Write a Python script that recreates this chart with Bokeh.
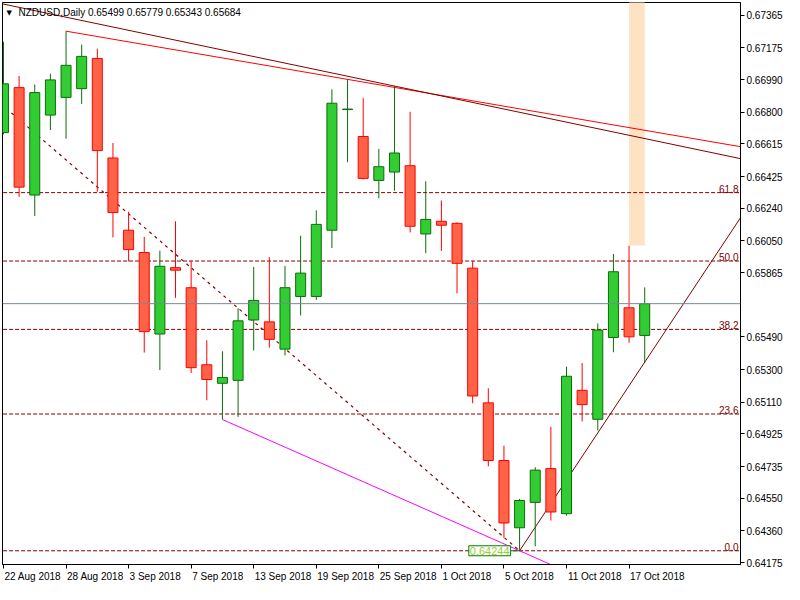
from bokeh.plotting import figure
from bokeh.models import Range1d, FixedTicker, NumeralTickFormatter, Label, Span
from bokeh.embed import file_html
from bokeh.resources import INLINE
from bokeh.core.properties import value

symbol = "NZDUSD,Daily"

dates = ["22 Aug 2018", "23 Aug 2018", "24 Aug 2018", "27 Aug 2018", "28 Aug 2018", "29 Aug 2018",
         "30 Aug 2018", "31 Aug 2018", "3 Sep 2018", "4 Sep 2018", "5 Sep 2018", "6 Sep 2018",
         "7 Sep 2018", "10 Sep 2018", "11 Sep 2018", "12 Sep 2018", "13 Sep 2018", "14 Sep 2018",
         "17 Sep 2018", "18 Sep 2018", "19 Sep 2018", "20 Sep 2018", "21 Sep 2018", "24 Sep 2018",
         "25 Sep 2018", "26 Sep 2018", "27 Sep 2018", "28 Sep 2018", "1 Oct 2018", "2 Oct 2018",
         "3 Oct 2018", "4 Oct 2018", "5 Oct 2018", "8 Oct 2018", "9 Oct 2018", "10 Oct 2018",
         "11 Oct 2018", "12 Oct 2018", "15 Oct 2018", "16 Oct 2018", "17 Oct 2018", "18 Oct 2018"]

opens = [0.66681, 0.66943, 0.66317, 0.66783, 0.66886, 0.66937, 0.67113, 0.66533, 0.66112, 0.65982,
         0.65507, 0.65894, 0.65777, 0.65328, 0.65220, 0.65237, 0.65589, 0.65578, 0.65419, 0.65726,
         0.65726, 0.66112, 0.66815, 0.66658, 0.66402, 0.66451, 0.66488, 0.66090, 0.66164, 0.66152,
         0.65891, 0.65106, 0.64770, 0.64378, 0.64526, 0.64723, 0.64460, 0.65179, 0.65010, 0.65487,
         0.65660, 0.65499]
highs = [0.67210, 0.67011, 0.66961, 0.67024, 0.67272, 0.67194, 0.67170, 0.66620, 0.66220, 0.66074,
         0.65993, 0.66164, 0.65934, 0.65471, 0.65407, 0.65657, 0.65898, 0.65955, 0.65904, 0.66080,
         0.66228, 0.66933, 0.66991, 0.66882, 0.66586, 0.66952, 0.66802, 0.66398, 0.66285, 0.66158,
         0.65934, 0.65191, 0.64857, 0.64546, 0.64731, 0.64966, 0.65317, 0.65338, 0.65569, 0.65973,
         0.66021, 0.65779]
lows = [0.66671, 0.66306, 0.66195, 0.66696, 0.66645, 0.66848, 0.66336, 0.66070, 0.65930, 0.65399,
        0.65297, 0.65718, 0.65280, 0.65121, 0.65009, 0.65024, 0.65411, 0.65428, 0.65382, 0.65615,
        0.65706, 0.66008, 0.66508, 0.66408, 0.66298, 0.66342, 0.66099, 0.65978, 0.65991, 0.65744,
        0.65104, 0.64736, 0.64319, 0.64244, 0.64270, 0.64420, 0.64449, 0.64998, 0.64945, 0.65401,
        0.65456, 0.65343]
closes = [0.66965, 0.66363, 0.66914, 0.66988, 0.67073, 0.67125, 0.66576, 0.66215, 0.65999, 0.65521,
          0.65902, 0.65879, 0.65311, 0.65242, 0.65254, 0.65584, 0.65703, 0.65476, 0.65777, 0.65862,
          0.66146, 0.66852, 0.66818, 0.66414, 0.66482, 0.66562, 0.66135, 0.66175, 0.66141, 0.65919,
          0.65146, 0.64770, 0.64406, 0.64537, 0.64714, 0.64470, 0.65261, 0.65096, 0.65530, 0.65870,
          0.65491, 0.65684]

y_ticks = [0.67365, 0.67175, 0.66990, 0.66800, 0.66615, 0.66425, 0.66240, 0.66050, 0.65865,
           0.65490, 0.65300, 0.65110, 0.64925, 0.64735, 0.64550, 0.64360, 0.64175]
x_tick_step = 4

# Fibonacci retracement anchors (bar index, price)
fib_high_idx, fib_high = -10, 0.67621
fib_low_idx, fib_low = 33, 0.64244
fib_levels = [0.0, 23.6, 38.2, 50.0, 61.8]

# trend lines: anchors (bar index, price)
red_line = [(4, 0.67272), (22, 0.66991)]
maroon_line = [(-10, 0.67621), (25, 0.66952)]
up_line = [(33, 0.64244), (41, 0.65343)]
magenta_line = [(14, 0.65009), (33, 0.64244)]

# highlighted rectangle (bar index range, price range)
rect_left, rect_right = 40, 41
rect_bottom, rect_top = 0.66023, 0.68

x_start, x_end = -0.0625, 47.125
y_start, y_end = 0.64164, 0.67439

FONT = "Liberation Sans"
FS_PX = 10
FS = f"{FS_PX}px"
MAROON = "#800000"
FRAME_W, FRAME_H = 738, 562

# approximate advance widths (per 1000 em) of Liberation Sans, used to left-align date labels
GLYPH_W = {" ": 278, "A": 667, "u": 556, "g": 556, "S": 667, "e": 556, "p": 556, "O": 778, "c": 500, "t": 278}

n = len(closes)
idx = list(range(n))
tick_idx = list(range(0, n, x_tick_step))
px_per_bar = FRAME_W / (x_end - x_start)


def text_w(s):
    return sum(GLYPH_W.get(ch, 556) for ch in s) * FS_PX / 1000.0


label_pos = [round(i + (text_w(dates[i]) / 2 + 1) / px_per_bar, 4) for i in tick_idx]

p = figure(frame_width=FRAME_W, frame_height=FRAME_H, x_range=Range1d(x_start, x_end),
           y_range=Range1d(y_start, y_end), y_axis_location="right", output_backend="svg",
           toolbar_location=None, min_border_left=2, min_border_top=2, min_border_right=0,
           min_border_bottom=0)
p.grid.visible = False
p.outline_line_color = "black"
p.outline_line_width = 1
p.background_fill_color = "white"
p.border_fill_color = "white"

# axes
p.xaxis.ticker = FixedTicker(ticks=label_pos, minor_ticks=tick_idx)
p.xaxis.major_label_overrides = {pos: dates[i] for pos, i in zip(label_pos, tick_idx)}
p.xaxis.major_tick_line_color = None
p.xaxis.minor_tick_line_color = "black"
p.xaxis.minor_tick_in = 0
p.xaxis.minor_tick_out = 4
p.yaxis.ticker = FixedTicker(ticks=y_ticks)
p.yaxis.formatter = NumeralTickFormatter(format="0.00000")
p.yaxis.minor_tick_line_color = None
p.yaxis.major_tick_line_color = "black"
for ax in (p.xaxis, p.yaxis):
    ax.major_tick_in = 0
    ax.major_tick_out = 4
    ax.axis_line_color = "black"
    ax.major_label_text_font = FONT
    ax.major_label_text_font_size = FS
    ax.major_label_text_color = "black"
    ax.major_label_standoff = 2

# rectangle
p.quad(left=[rect_left], right=[rect_right], bottom=[rect_bottom], top=[rect_top],
       fill_color="#FDE2C4", line_color=None)

# fib levels
fr = fib_high - fib_low
fib_prices = [fib_low + fr * lv / 100.0 for lv in fib_levels]
p.segment(x0=[fib_high_idx] * len(fib_levels), y0=fib_prices, x1=[x_end] * len(fib_levels), y1=fib_prices,
          line_color=MAROON, line_width=1, line_dash="4 2")
p.text(x=[x_end] * len(fib_levels), y=fib_prices, text=[f"{lv:.1f}" for lv in fib_levels],
       text_align="right", text_baseline="bottom", x_offset=-2, text_color=MAROON,
       text_font=value(FONT), text_font_size=FS)
p.segment(x0=[fib_high_idx], y0=[fib_high], x1=[fib_low_idx], y1=[fib_low],
          line_color=MAROON, line_width=1.2, line_dash="3 4")


def ray(anchors, to=x_end + 1):
    (x0, y0), (x1, y1) = anchors
    slope = (y1 - y0) / (x1 - x0)
    return [x0, to], [y0, y0 + slope * (to - x0)]


for anchors, col in ((red_line, "#FF0000"), (maroon_line, MAROON), (up_line, MAROON), (magenta_line, "#FF00FF")):
    xs, ys = ray(anchors)
    p.line(xs, ys, line_color=col, line_width=1)

# current price line
p.add_layout(Span(location=closes[-1], dimension="width", line_color="#778899", line_width=1))

# candles
bull = [c >= o for o, c in zip(opens, closes)]
fill = ["#32CD32" if b else "#FF6347" for b in bull]
edge = ["#0A6E0A" if b else "#FF0000" for b in bull]
p.segment(x0=idx, y0=lows, x1=idx, y1=highs, line_color=edge, line_width=1)
p.vbar(x=idx, width=0.64, top=[max(o, c) for o, c in zip(opens, closes)],
       bottom=[min(o, c) for o, c in zip(opens, closes)], fill_color=fill, line_color=edge, line_width=1)

# price label at the low
p.segment(x0=[fib_low_idx - 0.6], y0=[fib_low], x1=[fib_low_idx], y1=[fib_low], line_color="#008000", line_width=1)
p.add_layout(Label(x=fib_low_idx, y=fib_low, x_offset=-9, text=f"{fib_low:.5f}", text_align="right",
                   text_baseline="middle", text_color="#9ACD32", text_font=FONT, text_font_size="11px",
                   border_line_color="#008000", background_fill_color="white", padding=1))

# current price box on axis
p.add_layout(Label(x=x_end, y=closes[-1], x_offset=1, text=f"{closes[-1]:.5f}", text_align="left",
                   text_baseline="middle", text_color="white", text_font=FONT, text_font_size=FS,
                   background_fill_color="black", padding=2))

# title
p.add_layout(Label(x=x_start, y=y_end, x_offset=4, y_offset=-6, text="\u25BC", text_align="left",
                   text_baseline="top", text_color="black", text_font="DejaVu Sans", text_font_size="7px"))
p.add_layout(Label(x=x_start, y=y_end, x_offset=16, y_offset=-4,
                   text=f"{symbol}  {opens[-1]:.5f} {highs[-1]:.5f} {lows[-1]:.5f} {closes[-1]:.5f}",
                   text_align="left", text_baseline="top", text_color="black", text_font=FONT,
                   text_font_size=FS))

open("out.html", "w").write(file_html(p, INLINE))
